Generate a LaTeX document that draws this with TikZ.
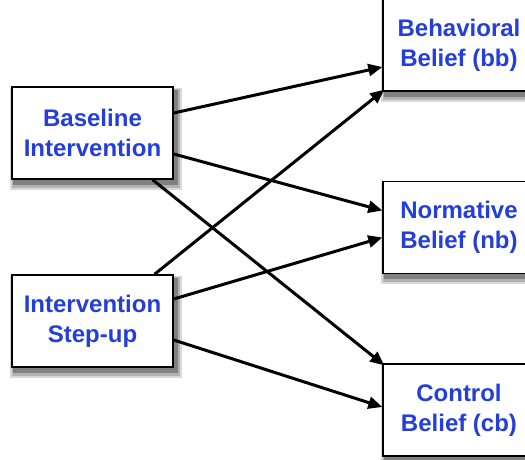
\documentclass[tikz,border=0pt]{standalone}
\usepackage{fontspec}
\setmainfont{Liberation Sans}
\usepackage{tikz}
\usetikzlibrary{positioning}
\usetikzlibrary{arrows.meta}
\usetikzlibrary{backgrounds}
\definecolor{labelblue}{RGB}{35,62,218}

\begin{document}
\begin{tikzpicture}[on grid,
    factor/.style={draw,line width=1.4pt,fill=white,minimum width=161pt,minimum height=92pt,
      align=center,font=\fontsize{24}{30}\selectfont\bfseries,text=labelblue},
    belief/.style={factor,minimum width=152pt},
    link/.style={line width=3pt,-{Triangle[length=14pt,width=12pt]}}]
   \useasboundingbox (-92.5pt,133pt) rectangle ++(525pt,-459pt);
   \node[factor] (base) at (0,0) {Baseline\\Intervention};
   \node[factor] (step) [below=188pt of base] {Intervention\\Step-up};
   \node[belief] (bb) [above right=88pt and 366.5pt of base] {Behavioral\\Belief (bb)};
   \node[belief] (nb) [below=182.5pt of bb] {Normative\\Belief (nb)};
   \node[belief] (cb) [below=182.5pt of nb] {Control\\Belief (cb)};
    \draw[link] ([yshift=20pt]base.east) -- ([yshift=-22pt]bb.west);
    \draw[link] ([yshift=-21pt]base.east) -- ([yshift=17pt]nb.west);
    \draw[link] ([xshift=60pt]base.south) -- ([xshift=2pt,yshift=-2pt]cb.north west);
    \draw[link] ([xshift=62pt]step.north) -- ([xshift=2pt,yshift=2pt]bb.south west);
    \draw[link] ([yshift=22pt]step.east) -- ([yshift=-10pt]nb.west);
    \draw[link] ([yshift=-19pt]step.east) -- ([yshift=3pt]cb.west);
   % soft shadows behind the boxes
   \begin{scope}[on background layer]
    \foreach \n in {base,step,bb,nb,cb} {
      \fill[black!15] ([xshift=-1pt,yshift=-10pt]\n.south west) rectangle ([xshift=8pt,yshift=-2pt]\n.north east);
      \fill[black!30] ([xshift=1pt,yshift=-8pt]\n.south west) rectangle ([xshift=6pt,yshift=-3pt]\n.north east);
      \fill[black!50] ([xshift=2pt,yshift=-5pt]\n.south west) rectangle ([xshift=4pt,yshift=-4pt]\n.north east);
    }
   \end{scope}
\end{tikzpicture}
\end{document}
